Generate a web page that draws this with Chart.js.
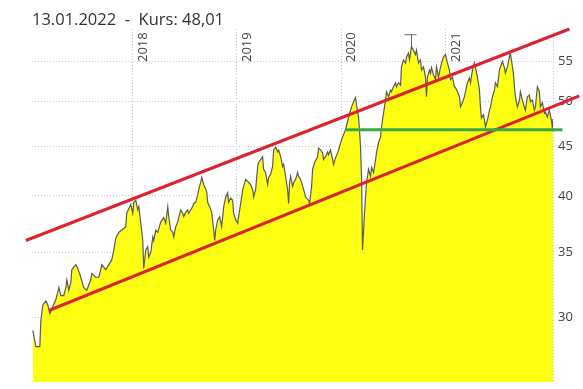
<!DOCTYPE html>
<html>
<head>
<meta charset="utf-8">
<script src="https://cdn.jsdelivr.net/npm/chart.js@4/dist/chart.umd.min.js"></script>
<style>
  html, body { margin: 0; padding: 0; background: #fff; }
  #wrap { position: relative; width: 583px; height: 389px; }
</style>
</head>
<body>
<div id="wrap"><canvas id="chart" width="583" height="389"></canvas></div>
<script>
// Kursverlauf, Zeit als Dezimaljahr
const priceYears = [
  2017.041, 2017.070, 2017.108, 2017.118, 2017.137, 2017.166, 2017.185, 2017.204, 2017.262, 2017.291,
  2017.310, 2017.338, 2017.358, 2017.367, 2017.386, 2017.406, 2017.415, 2017.453, 2017.473, 2017.501,
  2017.530, 2017.559, 2017.597, 2017.607, 2017.645, 2017.674, 2017.693, 2017.703, 2017.741, 2017.770,
  2017.799, 2017.818, 2017.837, 2017.866, 2017.895, 2017.933, 2017.942, 2017.981, 2018.000, 2018.010,
  2018.029, 2018.048, 2018.058, 2018.077, 2018.096, 2018.105, 2018.125, 2018.144, 2018.153, 2018.173,
  2018.192, 2018.201, 2018.221, 2018.240, 2018.268, 2018.297, 2018.316, 2018.336, 2018.345, 2018.364,
  2018.384, 2018.393, 2018.412, 2018.431, 2018.441, 2018.460, 2018.479, 2018.489, 2018.508, 2018.527,
  2018.537, 2018.556, 2018.575, 2018.585, 2018.604, 2018.623, 2018.633, 2018.652, 2018.662, 2018.681,
  2018.690, 2018.710, 2018.719, 2018.738, 2018.757, 2018.777, 2018.786, 2018.796, 2018.815, 2018.834,
  2018.853, 2018.873, 2018.892, 2018.911, 2018.920, 2018.940, 2018.959, 2018.968, 2018.988, 2019.007,
  2019.016, 2019.036, 2019.055, 2019.064, 2019.083, 2019.103, 2019.131, 2019.151, 2019.160, 2019.179,
  2019.199, 2019.208, 2019.227, 2019.246, 2019.256, 2019.275, 2019.294, 2019.304, 2019.323, 2019.342,
  2019.352, 2019.371, 2019.390, 2019.400, 2019.419, 2019.438, 2019.448, 2019.467, 2019.486, 2019.496,
  2019.505, 2019.515, 2019.534, 2019.544, 2019.563, 2019.582, 2019.592, 2019.611, 2019.640, 2019.659,
  2019.688, 2019.697, 2019.716, 2019.726, 2019.745, 2019.774, 2019.783, 2019.803, 2019.822, 2019.831,
  2019.850, 2019.870, 2019.879, 2019.898, 2019.918, 2019.927, 2019.946, 2019.966, 2019.975, 2020.004,
  2020.042, 2020.071, 2020.090, 2020.100, 2020.119, 2020.138, 2020.148, 2020.167, 2020.176, 2020.186,
  2020.196, 2020.205, 2020.224, 2020.234, 2020.244, 2020.263, 2020.282, 2020.292, 2020.311, 2020.330,
  2020.339, 2020.359, 2020.378, 2020.387, 2020.407, 2020.426, 2020.435, 2020.455, 2020.474, 2020.483,
  2020.502, 2020.522, 2020.531, 2020.550, 2020.570, 2020.579, 2020.598, 2020.618, 2020.627, 2020.646,
  2020.656, 2020.675, 2020.694, 2020.713, 2020.723, 2020.742, 2020.761, 2020.771, 2020.790, 2020.809,
  2020.819, 2020.828, 2020.848, 2020.857, 2020.867, 2020.886, 2020.905, 2020.915, 2020.934, 2020.953,
  2020.963, 2020.982, 2021.001, 2021.020, 2021.039, 2021.049, 2021.068, 2021.087, 2021.097, 2021.116,
  2021.135, 2021.145, 2021.164, 2021.183, 2021.193, 2021.212, 2021.231, 2021.241, 2021.260, 2021.279,
  2021.289, 2021.308, 2021.327, 2021.337, 2021.346, 2021.365, 2021.375, 2021.385, 2021.404, 2021.423,
  2021.433, 2021.452, 2021.471, 2021.480, 2021.500, 2021.519, 2021.528, 2021.548, 2021.567, 2021.576,
  2021.596, 2021.615, 2021.624, 2021.634, 2021.653, 2021.663, 2021.672, 2021.691, 2021.711, 2021.720,
  2021.739, 2021.758, 2021.768, 2021.787, 2021.806, 2021.816, 2021.835, 2021.854, 2021.864, 2021.883,
  2021.902, 2021.912, 2021.931, 2021.950, 2021.960, 2021.979, 2021.989, 2021.998, 2022.017, 2022.027,
  2022.033
];
const priceValues = [
  29.1, 28.0, 28.0, 29.8, 30.9, 31.2, 30.9, 30.3, 31.3, 32.2,
  31.6, 31.6, 32.2, 32.8, 32.0, 32.6, 33.6, 34.0, 33.7, 33.0,
  32.2, 32.0, 32.8, 33.3, 33.0, 33.0, 33.6, 34.0, 33.6, 34.0,
  34.4, 35.2, 36.2, 36.7, 36.9, 37.2, 38.4, 39.2, 38.4, 39.4,
  39.6, 38.7, 39.0, 37.5, 36.0, 33.7, 35.2, 35.5, 34.6, 35.0,
  36.3, 36.0, 36.9, 36.7, 37.6, 38.0, 37.5, 39.0, 38.1, 36.9,
  36.7, 36.3, 37.2, 37.6, 38.0, 38.7, 38.4, 38.1, 38.5, 38.7,
  38.4, 38.7, 39.0, 39.3, 39.4, 40.1, 40.6, 41.3, 41.8, 41.1,
  40.9, 40.4, 39.4, 39.0, 38.5, 36.9, 36.0, 36.9, 37.8, 38.1,
  37.2, 39.0, 39.9, 40.3, 39.4, 39.8, 39.6, 38.4, 37.8, 37.5,
  38.1, 39.3, 40.6, 40.9, 41.6, 41.4, 41.1, 40.6, 39.9, 40.6,
  42.9, 43.3, 43.6, 43.9, 42.6, 42.3, 41.1, 41.8, 42.1, 42.9,
  44.6, 44.9, 44.4, 44.6, 43.9, 42.9, 43.1, 41.9, 40.6, 39.3,
  41.3, 41.9, 40.9, 41.3, 41.6, 42.3, 41.9, 41.6, 40.6, 39.9,
  39.6, 39.3, 40.9, 42.6, 43.3, 43.9, 44.8, 44.6, 44.3, 43.6,
  43.9, 44.4, 44.1, 44.6, 43.6, 43.1, 43.8, 44.3, 44.6, 45.7,
  46.8, 48.2, 49.0, 49.4, 50.0, 50.5, 49.6, 48.2, 46.8, 44.9,
  41.6, 35.2, 38.4, 39.9, 41.3, 42.6, 41.9, 42.8, 42.3, 43.6,
  44.3, 45.4, 46.0, 47.1, 48.7, 50.2, 51.2, 50.6, 51.4, 51.2,
  51.8, 52.3, 51.8, 52.3, 52.0, 54.3, 55.2, 54.8, 55.6, 56.1,
  55.2, 57.0, 56.5, 55.9, 56.5, 54.8, 55.2, 53.9, 54.3, 53.0,
  50.6, 53.0, 53.9, 53.5, 54.2, 53.3, 52.7, 54.3, 53.0, 54.2,
  54.8, 55.6, 55.9, 54.8, 53.9, 52.7, 53.0, 51.8, 51.7, 51.2,
  50.6, 49.4, 49.9, 50.6, 51.2, 52.3, 52.9, 52.3, 53.9, 54.8,
  54.2, 53.0, 51.4, 49.4, 48.1, 48.5, 47.9, 47.1, 47.9, 49.0,
  49.4, 50.6, 51.4, 52.3, 51.8, 53.9, 54.3, 55.0, 54.2, 53.5,
  54.3, 55.6, 56.1, 55.2, 53.5, 51.8, 50.6, 49.4, 50.2, 51.2,
  50.2, 49.4, 49.0, 50.6, 50.8, 50.0, 50.2, 49.0, 49.4, 51.8,
  51.2, 49.4, 49.9, 48.7, 48.8, 48.2, 48.7, 49.0, 47.9, 47.1,
  48.01
];

// Hoch-Markierung
const highYears = [2020.608, 2020.723, null, 2020.675, 2020.675];
const highValues = [58.6, 58.6, null, 58.6, 57.0];

// Trendkanal (rot) und Unterstuetzung (gruen)
const upperChannelYears = [2016.974, 2022.190];
const upperChannelValues = [36.0, 59.4];
const lowerChannelYears = [2017.195, 2022.286];
const lowerChannelValues = [30.5, 50.7];
const supportYears = [2020.042, 2022.123];
const supportValues = [46.8, 46.8];

const yearTicks = [2018, 2019, 2020, 2021];
const priceTicks = [30, 35, 40, 45, 50, 55];
const titleText = '13.01.2022  -  Kurs: 48,01';

const xMin = 2017.033;
const xMax = 2022.033;

const toPoints = (xs, ys) => xs.map((x, i) => ({ x: x, y: ys[i] }));

const gridColor = 'rgba(185, 185, 210, 0.9)';

// Titel und Jahreszahlen
const labelPlugin = {
    id: 'labels',
    afterDatasetsDraw(chart) {
        const ctx = chart.ctx;
        const xs = chart.scales.x;
        const area = chart.chartArea;
        ctx.save();
        ctx.fillStyle = '#444';
        ctx.font = '13px "Open Sans", sans-serif';
        ctx.textAlign = 'left';
        ctx.textBaseline = 'top';
        yearTicks.forEach(yr => {
            const px = xs.getPixelForValue(yr);
            ctx.save();
            ctx.translate(px + 4, 62);
            ctx.rotate(-Math.PI / 2);
            ctx.fillText(String(yr), 0, 0);
            ctx.restore();
        });
        ctx.fillStyle = '#333';
        ctx.font = '16.5px "Open Sans", sans-serif';
        ctx.textBaseline = 'alphabetic';
        ctx.fillText(titleText, area.left, 25);
        ctx.restore();
    }
};

const ctx = document.getElementById('chart').getContext('2d');
new Chart(ctx, {
    type: 'line',
    data: {
        datasets: [
            {
                label: 'Support',
                data: toPoints(supportYears, supportValues),
                borderColor: '#3aa845',
                borderWidth: 3,
                pointRadius: 0,
                fill: false,
                clip: false,
                order: 1
            },
            {
                label: 'Oben',
                data: toPoints(upperChannelYears, upperChannelValues),
                borderColor: '#dc2330',
                borderWidth: 3,
                pointRadius: 0,
                fill: false,
                clip: false,
                order: 2
            },
            {
                label: 'Unten',
                data: toPoints(lowerChannelYears, lowerChannelValues),
                borderColor: '#dc2330',
                borderWidth: 3,
                pointRadius: 0,
                fill: false,
                clip: false,
                order: 2
            },
            {
                label: 'Hoch',
                data: toPoints(highYears, highValues),
                borderColor: '#666',
                borderWidth: 1,
                pointRadius: 0,
                fill: false,
                spanGaps: false,
                order: 3
            },
            {
                label: 'Kurs',
                data: toPoints(priceYears, priceValues),
                borderColor: '#5a5a5a',
                borderWidth: 1.2,
                backgroundColor: 'rgba(255, 255, 0, 0.93)',
                pointRadius: 0,
                tension: 0,
                fill: 'start',
                order: 5
            }
        ]
    },
    options: {
        responsive: false,
        animation: false,
        devicePixelRatio: 1,
        layout: { padding: { left: 32, top: 29, right: 0, bottom: 0 } },
        scales: {
            x: {
                type: 'linear',
                min: xMin,
                max: xMax,
                afterBuildTicks: scale => {
                    scale.ticks = yearTicks.concat([xMax]).map(v => ({ value: v }));
                },
                afterFit: scale => {
                    scale.height = 7;
                    scale.paddingLeft = 0;
                    scale.paddingRight = 0;
                },
                ticks: { display: false },
                grid: { color: gridColor, drawTicks: false },
                border: { display: false, dash: [1, 2] }
            },
            y: {
                type: 'logarithmic',
                position: 'right',
                min: 25.75,
                max: 59.4,
                afterBuildTicks: scale => {
                    scale.ticks = priceTicks.map(v => ({ value: v }));
                },
                afterFit: scale => {
                    scale.width = 30;
                    scale.paddingTop = 0;
                    scale.paddingBottom = 0;
                },
                ticks: {
                    color: '#444',
                    padding: 5,
                    font: { family: '"Open Sans", sans-serif', size: 13 },
                    callback: value => String(value)
                },
                grid: { color: gridColor, drawTicks: false },
                border: { display: false, dash: [1, 2] }
            }
        },
        plugins: {
            legend: { display: false },
            tooltip: { enabled: false }
        }
    },
    plugins: [labelPlugin]
});
</script>
</body>
</html>
